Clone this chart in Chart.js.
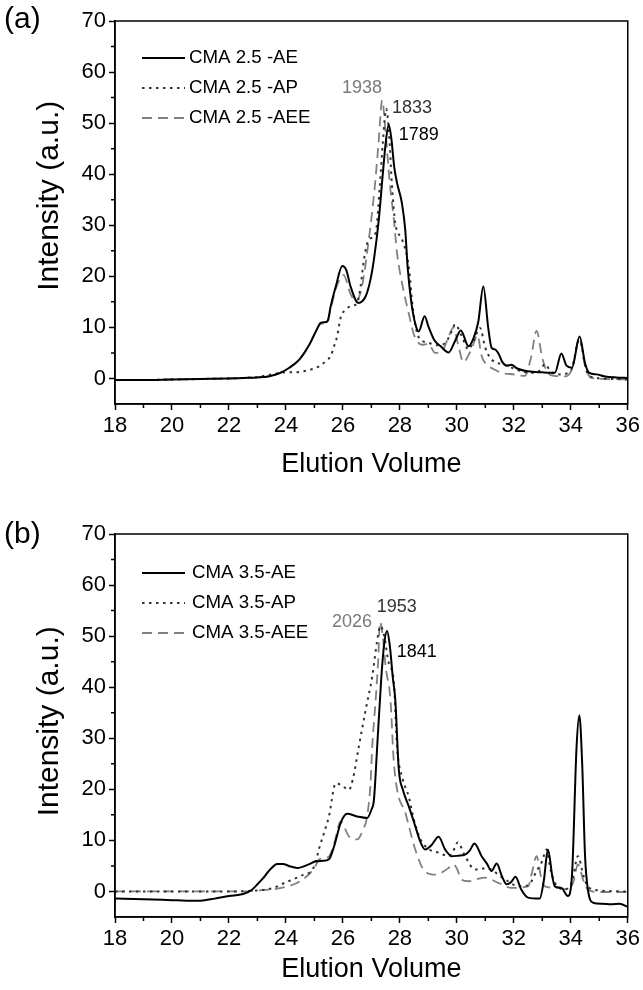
<!DOCTYPE html>
<html><head><meta charset="utf-8">
<script src="https://cdn.jsdelivr.net/npm/chart.js@4.4.0/dist/chart.umd.min.js"></script>
<style>
html,body{margin:0;padding:0;background:#fff;}
.wrap{position:absolute;left:0;width:643px;height:495px;}
</style></head><body>
<div class="wrap" style="top:0"><canvas id="ca" width="643" height="495"></canvas></div>
<div class="wrap" style="top:495px"><canvas id="cb" width="643" height="495"></canvas></div>
<script>
const FONT = "'Liberation Sans', Arial, Helvetica, sans-serif";

// tick values
const xTickValues = [18,20,22,24,26,28,30,32,34,36];
const xMinorTicks = [19,21,23,25,27,29,31,33,35];
const yTickValues = [0,10,20,30,40,50,60,70];
const yMinorTicks = [5,15,25,35,45,55,65];

// ---------- panel (a) ----------
const labelsA = ['CMA 2.5 -AE','CMA 2.5 -AP','CMA 2.5 -AEE'];
const aeTopX = [18,19,20,21,22,22.5,23,23.42,23.8,24.12,24.47,24.82,25.05,25.22,25.35,25.46,25.57,25.75,25.98,26.12,26.27,26.54,26.8,26.97,27.09,27.26,27.4,27.5,27.61,27.7,27.8,27.9,28.07,28.19,28.27,28.4,28.55,28.66,28.87,29.0,29.2,29.45,29.71,29.95,30.14,30.41,30.58,30.75,30.93,31.1,31.22,31.34,31.45,31.6,31.75,31.92,32.1,32.5,33.0,33.44,33.67,33.85,34.04,34.31,34.5,34.65,34.9,35.2,35.6,36];
const aeTopY = [-0.3,-0.3,-0.2,-0.1,0,0.1,0.2,0.45,1.1,2.1,3.7,6.6,9.2,10.9,11.0,11.2,14.1,18,22,21.2,18,14.8,16.1,19.4,23.3,31.1,40,46,49.7,47,41.5,38.3,34.4,29,22,15,10.5,9.2,12.2,10.2,7.6,6.2,5.1,7.5,9.4,6.3,7.8,11,18,10,6,5.7,5,3.2,2.5,2.7,2,1.4,1.2,1.1,4.9,2.5,2.1,8.2,3,1.1,0.8,0.4,0.2,0.1];
const apTopX = [18,19,20,21,22,22.5,23,23.5,24,24.3,24.7,25.17,25.4,25.57,25.7,25.8,25.92,26.1,26.3,26.5,26.62,26.74,26.91,27.15,27.3,27.4,27.52,27.62,27.72,27.84,28.08,28.31,28.45,28.6,28.75,29.0,29.3,29.6,29.8,29.94,30.17,30.41,30.6,30.81,31.0,31.22,31.69,32.2,32.62,32.9,33.1,33.3,33.6,34.0,34.3,34.55,34.8,35.5,36];
const apTopY = [-0.3,-0.3,-0.2,-0.1,0,0.1,0.3,0.8,1.2,1.2,1.5,2.4,3.4,4.4,6.5,8.3,11.9,13.5,14.2,14.8,18,23.3,27.2,28.5,38,46,52.8,48,38,30.4,27.2,22,14,9,7.5,7,6.5,7,9,10.6,8.3,5.7,7.5,9.9,6,3.7,2.7,1.5,1.1,1.5,2.8,1.3,0.8,1.5,7.5,1.5,0.2,-0.1,-0.2];
const aeeTopX = [18,19,20,21,22,22.5,23,23.42,23.8,24.12,24.47,24.82,25.05,25.22,25.35,25.46,25.57,25.75,26.02,26.27,26.45,26.65,26.91,27.12,27.25,27.38,27.5,27.65,27.79,27.9,28.1,28.3,28.5,28.78,29.0,29.24,29.5,29.7,29.88,30.05,30.23,30.45,30.6,30.72,30.87,31.0,31.3,31.57,32.0,32.39,32.6,32.8,33.0,33.15,33.44,33.8,34.05,34.3,34.5,34.72,35.2,36];
const aeeTopY = [-0.3,-0.3,-0.2,-0.1,0,0.1,0.2,0.45,1.1,2.1,3.7,6.6,9.2,10.7,10.8,11.0,13.5,17.5,20.3,16.5,15.2,17.5,27.2,37.6,46,54.5,48,38,31.1,24.6,18,13,8.5,6.6,6.8,5,5.5,8,10,6.5,3.2,5,7,8.5,4.4,3,1.8,1.1,0.8,0.5,4,9.3,4,1.5,0.5,0.4,2,8,2.5,0.1,-0.1,-0.2];
const notesA = ['1938','1833','1789'];
const notesAX = [25.97,27.72,27.96];
const notesAY = [55.9,52.0,46.7];

// ---------- panel (b) ----------
const labelsB = ['CMA 3.5-AE','CMA 3.5-AP','CMA 3.5-AEE'];
const aeBotX = [18,19,20,20.5,21,21.5,22,22.5,22.8,23,23.2,23.4,23.7,23.9,24.1,24.4,24.8,25.05,25.3,25.51,25.7,25.92,26.15,26.5,26.85,27.0,27.09,27.2,27.35,27.45,27.55,27.65,27.75,27.84,27.96,28.1,28.31,28.54,28.7,28.89,29.1,29.36,29.59,29.82,30.05,30.29,30.45,30.62,30.87,31.05,31.22,31.4,31.58,31.75,31.9,32.06,32.25,32.5,32.91,33.05,33.2,33.35,33.44,33.67,33.9,34.05,34.2,34.3,34.4,34.5,34.6,34.78,35.1,35.42,35.71,36];
const aeBotY = [-1.4,-1.5,-1.7,-1.8,-1.8,-1.4,-0.9,-0.5,0.3,1.4,2.6,4,5.4,5.4,5.0,4.6,5.3,5.9,6.0,6.3,9,13.4,15.2,14.7,14.4,16,18,28,42,48.5,51,48,42,37.5,24,20,16.7,12.8,10,8.2,9,10.7,8.2,6.9,7.0,7.2,8,9.4,6.9,5.5,4.0,5.5,3,1.4,1.8,2.9,0.5,-1.2,-1.4,2,8.2,3,1.0,0.7,-0.9,4,28,34.5,25,7,0.4,-2.2,-2.4,-2.5,-2.4,-3];
const apBotX = [18,20,22,22.7,23.5,24,24.5,25,25.17,25.34,25.51,25.75,25.95,26.21,26.35,26.56,26.8,27.03,27.2,27.32,27.45,27.6,27.79,27.9,28.1,28.31,28.49,28.7,28.89,29.1,29.36,29.71,29.88,30.03,30.29,30.64,30.9,31.22,31.45,31.8,32.16,32.5,32.8,33.0,33.14,33.3,33.44,33.79,34.05,34.25,34.45,34.6,35,36];
const apBotY = [0,0,0,0.1,0.6,1.8,3,5,8.5,11.5,14.7,21.2,20.8,19.9,22,28.4,35.6,42.1,49,52,50,45,40.8,28.4,22,18.6,14.1,10.5,8.9,8,7.6,6.9,8,9.6,6.9,4.3,4.5,4.3,3.3,2,1.0,1.2,4,6,8.2,4,1.7,0.4,2,6.9,3,1.0,0.2,0];
const aeeBotX = [18,20,22,22.5,23,23.5,24,24.5,25,25.17,25.5,25.7,25.92,26.21,26.5,26.7,26.85,26.97,27.03,27.15,27.24,27.3,27.4,27.5,27.67,27.78,27.9,28.19,28.54,28.83,29.24,29.5,29.71,29.88,30.0,30.17,30.41,30.7,30.99,31.45,31.92,32.5,32.65,32.8,32.95,33.09,33.55,33.9,34.1,34.25,34.45,34.6,35,36];
const aeeBotY = [0,0,0,0,0.2,0.4,0.9,2,4.6,6.3,6.8,9.5,13.7,10.8,10.2,12,14.7,21.2,28.4,37.5,45.4,52.8,50,44,37.5,26,20,15.4,8.2,4.3,3.3,3.8,4.6,5.3,4.5,2.3,2.0,2.4,2.7,1.7,0.7,1.0,4,6.9,3,1.0,0.7,0.4,2,5.3,2,0.4,-0.1,-0.1];
const notesB = ['2026','1953','1841'];
const notesBX = [25.62,27.19,27.89];
const notesBY = [51.8,54.75,45.95];

// ---------- styles ----------
const seriesStyles = [
  {color:'#000000', width:2,   dash:[]},
  {color:'#333333', width:2,   dash:[2.5,4.5]},
  {color:'#808080', width:1.8, dash:[10,6]}
];
const noteColors = ['#7a7a7a','#333333','#000000'];

function pts(xs, ys){ return xs.map((v,i)=>({x:v, y:ys[i]})); }

function decorPlugin(cfg){
  return {
    id:'decor',
    afterDraw(chart){
      const {ctx, chartArea:a, scales:{x, y}} = chart;
      ctx.save();
      ctx.strokeStyle = '#000'; ctx.lineWidth = 1.5; ctx.setLineDash([]);
      ctx.strokeRect(a.left, a.top, a.right - a.left, a.bottom - a.top);
      ctx.beginPath();
      xMinorTicks.forEach(v => { const p = x.getPixelForValue(v); ctx.moveTo(p, a.bottom); ctx.lineTo(p, a.bottom + 4); });
      yMinorTicks.forEach(v => { const p = y.getPixelForValue(v); ctx.moveTo(a.left, p); ctx.lineTo(a.left - 4, p); });
      ctx.stroke();
      // legend
      ctx.font = '18.7px ' + FONT; ctx.textBaseline = 'middle'; ctx.textAlign = 'left';
      chart.data.datasets.forEach((ds, i) => {
        const yy = a.top + cfg.legendTop + i * 30;
        ctx.save();
        ctx.strokeStyle = ds.borderColor; ctx.lineWidth = ds.borderWidth; ctx.setLineDash(ds.borderDash || []);
        ctx.beginPath(); ctx.moveTo(a.left + 27, yy); ctx.lineTo(a.left + 70, yy); ctx.stroke();
        ctx.restore();
        ctx.fillStyle = '#000';
        ctx.fillText(ds.label, a.left + cfg.legendTextX, yy);
      });
      // peak annotations
      ctx.font = '18px ' + FONT;
      ctx.textBaseline = 'alphabetic';
      cfg.notes.forEach((t, i) => {
        ctx.fillStyle = noteColors[i];
        ctx.fillText(t, x.getPixelForValue(cfg.notesX[i]), y.getPixelForValue(cfg.notesY[i]));
      });
      // panel letter
      ctx.font = '30px ' + FONT; ctx.textBaseline = 'middle'; ctx.fillStyle = '#000';
      ctx.fillText(cfg.panel, 4, cfg.panelY);
      ctx.restore();
    }
  };
}

function makeChart(id, cfg){
  return new Chart(document.getElementById(id), {
    type:'line',
    data:{ datasets: cfg.series.map((s, i) => ({
      label: cfg.labels[i],
      data: pts(s[0], s[1]),
      borderColor: seriesStyles[i].color,
      borderWidth: seriesStyles[i].width,
      borderDash: seriesStyles[i].dash,
      pointRadius: 0, fill: false,
      cubicInterpolationMode: 'monotone'
    }))},
    options:{
      responsive:false, animation:false, events:[],
      layout:{ padding:{ left:0, right:13, top:cfg.top, bottom:0 } },
      plugins:{ legend:{display:false}, tooltip:{enabled:false} },
      scales:{
        x:{
          type:'linear', min:18, max:36,
          afterBuildTicks: s => { s.ticks = xTickValues.map(v => ({value:v})); },
          afterFit: s => { s.height = cfg.xAxisHeight; },
          grid:{ drawOnChartArea:false, drawTicks:true, tickLength:6, tickColor:'#000', tickWidth:1.5 },
          border:{ display:true, color:'#000', width:1.5 },
          ticks:{ color:'#000', font:{family:FONT, size:22}, padding:3, maxRotation:0, autoSkip:false },
          title:{ display:true, text:'Elution Volume', color:'#000', font:{family:FONT, size:27}, padding:{top:0, bottom:cfg.xTitlePad} }
        },
        y:{
          type:'linear', min:-5, max:70,
          afterBuildTicks: s => { s.ticks = yTickValues.map(v => ({value:v})); },
          afterFit: s => { s.width = 115; },
          grid:{ drawOnChartArea:false, drawTicks:true, tickLength:6, tickColor:'#000', tickWidth:1.5 },
          border:{ display:true, color:'#000', width:1.5 },
          ticks:{ color:'#000', font:{family:FONT, size:22}, padding:3 },
          title:{ display:true, text:cfg.yTitle, color:'#000', font:{family:FONT, size:30}, padding:{top:32, bottom:0} }
        }
      }
    },
    plugins:[decorPlugin(cfg)]
  });
}

makeChart('ca', {
  labels: labelsA,
  series: [[aeTopX, aeTopY],[apTopX, apTopY],[aeeTopX, aeeTopY]],
  notes: notesA, notesX: notesAX, notesY: notesAY,
  top: 21, xAxisHeight: 91, xTitlePad: 14,
  yTitle: '    Intensity (a.u.)',
  legendTop: 37, legendTextX: 74,
  panel: '(a)', panelY: 20
});
makeChart('cb', {
  labels: labelsB,
  series: [[aeBotX, aeBotY],[apBotX, apBotY],[aeeBotX, aeeBotY]],
  notes: notesB, notesX: notesBX, notesY: notesBY,
  top: 39, xAxisHeight: 73, xTitlePad: 4,
  yTitle: ' Intensity (a.u.)',
  legendTop: 39, legendTextX: 77,
  panel: '(b)', panelY: 40
});
</script>
</body></html>
